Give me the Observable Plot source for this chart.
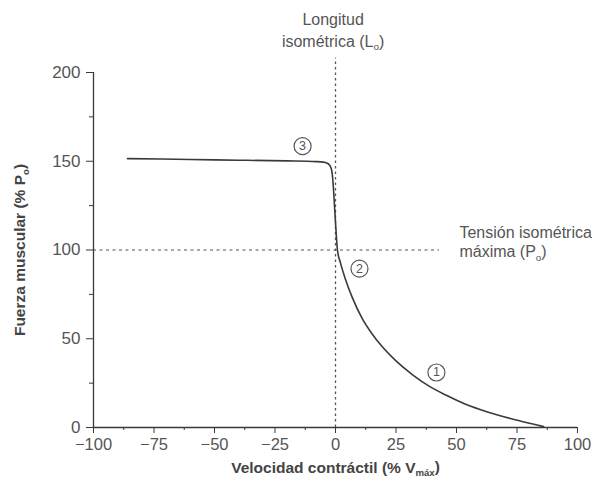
<!DOCTYPE html>
<html>
<head>
<meta charset="utf-8">
<script src="https://cdn.jsdelivr.net/npm/d3@7"></script>
<script src="https://cdn.jsdelivr.net/npm/@observablehq/plot@0.6"></script>
<style>
  html, body { margin: 0; padding: 0; background: #fff; }
  #chart svg { display: block; font-family: "Liberation Sans", Arial, sans-serif; }
</style>
</head>
<body>
<div id="chart"></div>
<script>
// ---- data ----
const curveX = [-86, -60, -40, -20, -8, -5, -3, -1.8, -1.2, -0.2, 0.8, 2, 4, 7, 11, 15, 19, 25, 32, 39, 46, 53, 60, 67, 76, 86];
const curveY = [151.5, 151, 150.6, 150.2, 149.8, 149.5, 148.6, 146, 141, 120, 100, 93, 84, 73, 61.5, 53, 46, 37.5, 29.5, 23, 18, 13.5, 10, 7, 3.8, 0.5];

const xTicks = [-100, -75, -50, -25, 0, 25, 50, 75, 100];
const xMinorTicks = [-87.5, -62.5, -37.5, -12.5, 12.5, 37.5, 62.5, 87.5];
const yTicks = [0, 50, 100, 150, 200];
const yMinorTicks = [25, 75, 125, 175];

const refVelocity = 0;       // longitud isométrica
const refForce = 100;        // tensión isométrica máxima
const refForceEndX = 43;     // end of the horizontal dashed guide
const refVelocityTopY = 208; // top of the vertical dashed guide

const markerLabels = ["3", "2", "1"];
const markerX = [-13.6, 9.9, 41.7];
const markerY = [158.5, 89.5, 31];

const noteTexts = ["Longitud", "isométrica (L_{o})", "Tensión isométrica", "máxima (P_{o})"];
const noteX = [-1, -1, 51.2, 51.2];
const noteY = [229.5, 217.5, 109.5, 98.7];
const noteAnchor = ["middle", "middle", "start", "start"];

const xLabel = "Velocidad contráctil (% V_{máx})";
const yLabel = "Fuerza muscular (% P_{o})";

// ---- tables ----
const curve = curveX.map((x, i) => ({x, y: curveY[i]}));
const markers = markerLabels.map((t, i) => ({t, x: markerX[i], y: markerY[i]}));
const notes = noteTexts.map((t, i) => ({t, x: noteX[i], y: noteY[i]}));

const ink = "#3a3a3a";
const grey = "#555";

const chart = Plot.plot({
  width: 592,
  height: 491,
  marginLeft: 93,
  marginRight: 15,
  marginTop: 72,
  marginBottom: 64,
  style: {fontFamily: "Liberation Sans, Arial, sans-serif", color: grey, background: "#fff"},
  x: {domain: [-100, 100]},
  y: {domain: [0, 200]},
  marks: [
    // dashed guides
    Plot.ruleY([refForce], {x1: -100, x2: refForceEndX, stroke: grey, strokeWidth: 1.2, strokeDasharray: "3,3.5"}),
    Plot.ruleX([refVelocity], {y1: 0, y2: refVelocityTopY, stroke: grey, strokeWidth: 1.3, strokeDasharray: "2.5,3"}),
    // axis lines
    Plot.ruleX([-100], {y1: 0, y2: 200, stroke: ink, strokeWidth: 1.3}),
    Plot.ruleY([0], {x1: -100, x2: 100, stroke: ink, strokeWidth: 1.3}),
    // ticks
    Plot.axisY(yTicks, {tickSize: 7, tickPadding: 6, fontSize: 17, label: null, stroke: ink, color: grey}),
    Plot.axisY(yMinorTicks, {tickSize: 4, tickFormat: () => "", label: null, stroke: ink}),
    Plot.axisX(xTicks, {tickSize: 6, tickPadding: 5, fontSize: 16.5, label: null, stroke: ink, color: grey}),
    Plot.axisX(xMinorTicks, {tickSize: 3, tickFormat: () => "", label: null, stroke: ink}),
    // curve
    Plot.line(curve, {x: "x", y: "y", curve: "monotone-x", stroke: ink, strokeWidth: 1.6}),
    // circled markers
    Plot.dot(markers, {x: "x", y: "y", r: 8.5, stroke: grey, strokeWidth: 1.2, fill: "white"}),
    Plot.text(markers, {x: "x", y: "y", text: "t", fontSize: 12.5, fill: grey}),
    // annotations
    Plot.text(notes, {x: "x", y: "y", text: "t", fontSize: 16, fill: grey}),
    // axis titles
    Plot.text([xLabel], {frameAnchor: "bottom", dy: 45, text: d => d, fontSize: 15.5, fontWeight: "bold", fill: "#444"}),
    Plot.text([yLabel], {frameAnchor: "left", dx: -73, rotate: -90, textAnchor: "middle", text: d => d, fontSize: 15.5, fontWeight: "bold", fill: "#444"})
  ]
});

document.getElementById("chart").appendChild(chart);

// per-note anchors
d3.select(chart).selectAll("text").each(function () {
  const idx = noteTexts.indexOf(this.textContent);
  if (idx >= 0) this.setAttribute("text-anchor", noteAnchor[idx]);
});

// render subscripts written as _{...}
d3.select(chart).selectAll("text").each(function () {
  const t = this.textContent;
  if (!t.includes("_{")) return;
  const el = d3.select(this);
  el.text(null);
  const parts = t.split(/(_\{[^}]*\})/);
  let shifted = false;
  for (const p of parts) {
    if (!p) continue;
    if (p.startsWith("_{")) {
      el.append("tspan").attr("font-size", "62%").attr("dy", "0.35em").text(p.slice(2, -1));
      shifted = true;
    } else {
      const ts = el.append("tspan").text(p);
      if (shifted) { ts.attr("dy", "-0.22em"); shifted = false; }
    }
  }
});
</script>
</body>
</html>
